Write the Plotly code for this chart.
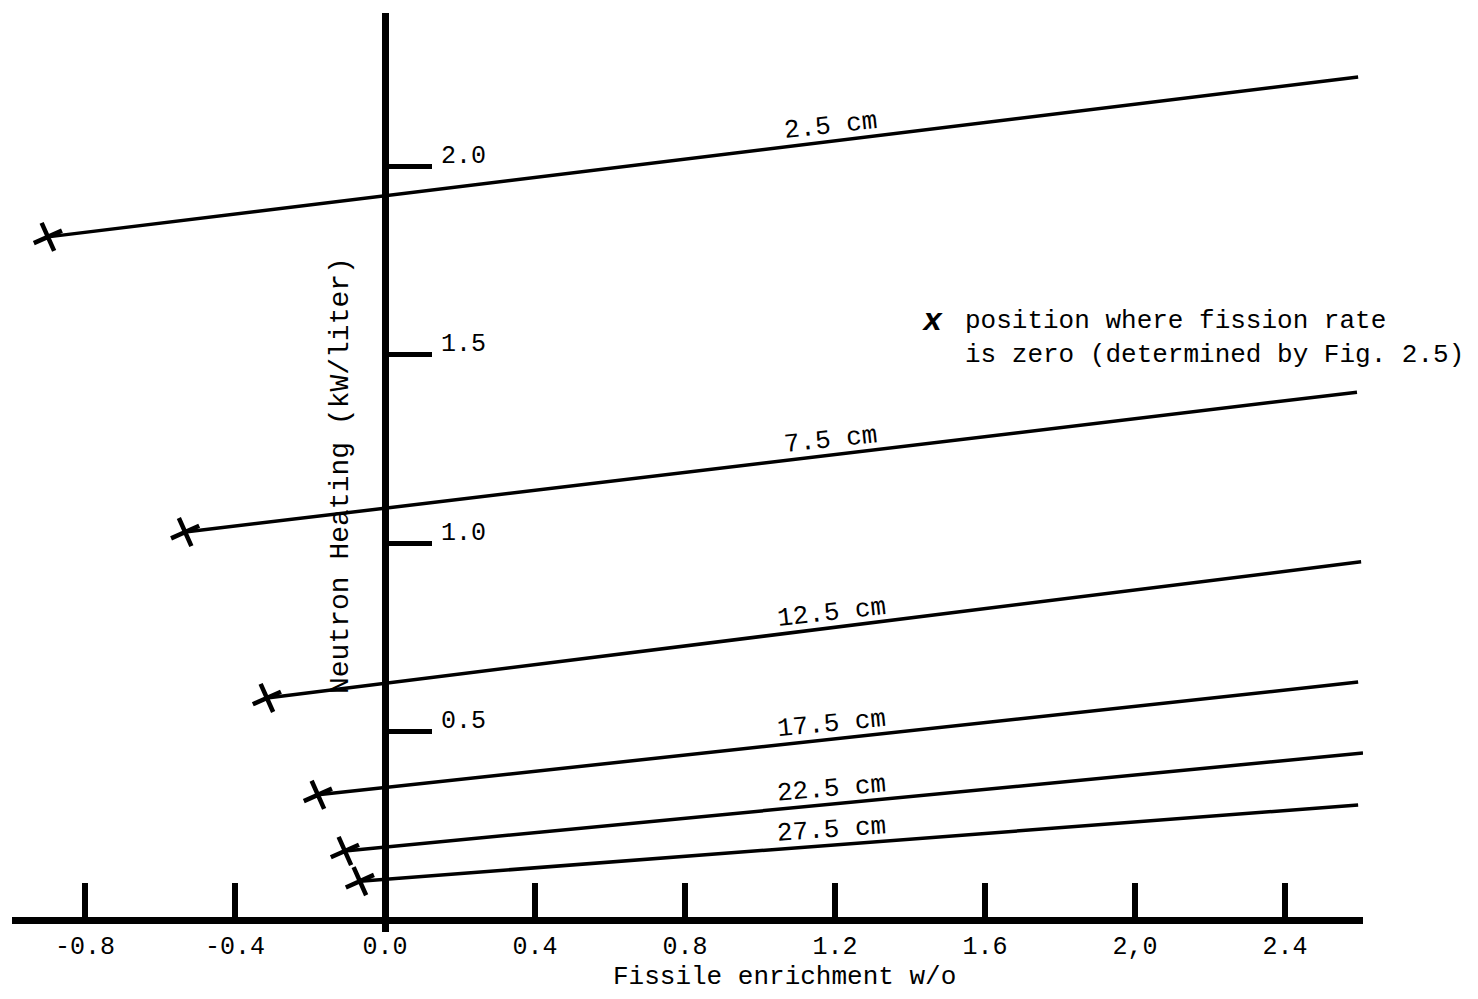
import math
import plotly.graph_objects as go

# ---------------- data ----------------
thickness_labels = ["2.5 cm", "7.5 cm", "12.5 cm", "17.5 cm", "22.5 cm", "27.5 cm"]
# left end: enrichment where fission rate is zero, and the heating there
zero_enrichment = [-0.899, -0.533, -0.315, -0.179, -0.107, -0.067]
zero_heating = [1.812, 1.029, 0.589, 0.332, 0.183, 0.103]
# right end of each line
end_enrichment = [2.595, 2.592, 2.603, 2.595, 2.608, 2.595]
end_heating = [2.236, 1.400, 0.950, 0.631, 0.443, 0.305]

x_tick_vals = [-0.8, -0.4, 0.0, 0.4, 0.8, 1.2, 1.6, 2.0, 2.4]
x_tick_text = ["-0.8", "-0.4", "0.0", "0.4", "0.8", "1.2", "1.6", "2,0", "2.4"]
y_tick_vals = [0.5, 1.0, 1.5, 2.0]
y_tick_text = ["0.5", "1.0", "1.5", "2.0"]

# ---------------- layout geometry ----------------
M = 8                           # default page-body margin of the html page
W, H = 1478 - 2 * M, 999 - 2 * M
SX, SY = 375.0, 377.0           # pixels per unit
OX, OY = 385.0 - M, 920.0 - M   # pixel position of the origin (figure coords)
X_LEFT_PX, X_RIGHT_PX = 12 - M, 1363 - M
Y_TOP_PX, Y_BOT_PX = 13 - M, 932 - M

FONT = "Liberation Mono, Courier New, monospace"

x_range = [(X_LEFT_PX - OX) / SX, (X_RIGHT_PX - OX) / SX]
y_range = [(OY - Y_BOT_PX) / SY, (OY - Y_TOP_PX) / SY]


def px_x(p):
    """reference pixel x -> data x"""
    return (p - M - OX) / SX


def px_y(p):
    """reference pixel y -> data y"""
    return (OY - (p - M)) / SY


fig = go.Figure()

for i, lab in enumerate(thickness_labels):
    fig.add_trace(go.Scatter(
        x=[zero_enrichment[i], end_enrichment[i]],
        y=[zero_heating[i], end_heating[i]],
        mode="lines",
        line=dict(color="black", width=3.5),
        name=lab,
        showlegend=False,
        hoverinfo="skip",
    ))

fig.add_trace(go.Scatter(
    x=zero_enrichment,
    y=zero_heating,
    mode="markers",
    marker=dict(symbol="cross-thin", size=22, angle=-24,
                line=dict(color="black", width=4.5), color="black"),
    showlegend=False,
    cliponaxis=False,
    hoverinfo="skip",
))

annotations = []
LABEL_X = 1.19
for i, lab in enumerate(thickness_labels):
    x0, y0 = zero_enrichment[i], zero_heating[i]
    x1, y1 = end_enrichment[i], end_heating[i]
    t = (LABEL_X - x0) / (x1 - x0)
    yl = y0 + t * (y1 - y0)
    ang = math.degrees(math.atan2((y1 - y0) * SY, (x1 - x0) * SX))
    annotations.append(dict(
        x=LABEL_X, y=yl, xref="x", yref="y", text=lab, showarrow=False,
        xanchor="center", yanchor="middle", yshift=15, textangle=-ang * 0.9,
        font=dict(family=FONT, size=26, color="black"),
    ))

# y-axis title
annotations.append(dict(
    x=px_x(340), y=px_y(476), xref="x", yref="y",
    text="Neutron Heating (kW/liter)", showarrow=False, textangle=-90,
    xanchor="center", yanchor="middle",
    font=dict(family=FONT, size=28, color="black"),
))
# x-axis title
annotations.append(dict(
    x=(785 - M) / W, y=(H - (977 - M)) / H, xref="paper", yref="paper",
    text="Fissile enrichment w/o", showarrow=False,
    xanchor="center", yanchor="middle",
    font=dict(family=FONT, size=26, color="black"),
))
# key
annotations.append(dict(
    x=px_x(932), y=px_y(321), xref="x", yref="y",
    text="<b><i>x</i></b>", showarrow=False, xanchor="center", yanchor="middle",
    font=dict(family=FONT, size=32, color="black"),
))
annotations.append(dict(
    x=px_x(963), y=px_y(304), xref="x", yref="y",
    text="position where fission rate<br>is zero (determined by Fig. 2.5)",
    showarrow=False, xanchor="left", yanchor="top", align="left",
    font=dict(family=FONT, size=26, color="black"),
))

fig.update_layout(
    width=W, height=H,
    margin=dict(l=0, r=0, t=0, b=0, pad=0),
    paper_bgcolor="white", plot_bgcolor="white",
    showlegend=False,
    annotations=annotations,
    xaxis=dict(
        domain=[X_LEFT_PX / W, X_RIGHT_PX / W],
        range=x_range, anchor="free", position=(H - OY) / H,
        showline=True, linecolor="black", linewidth=7,
        showgrid=False, zeroline=False,
        tickmode="array", tickvals=x_tick_vals, ticktext=x_tick_text,
        ticks="inside", ticklen=34, tickwidth=6, tickcolor="black",
        tickfont=dict(family=FONT, size=25, color="black"),
    ),
    yaxis=dict(
        domain=[(H - Y_BOT_PX) / H, (H - Y_TOP_PX) / H],
        range=y_range, anchor="free", position=OX / W, side="right",
        showline=True, linecolor="black", linewidth=7,
        showgrid=False, zeroline=False,
        tickmode="array", tickvals=y_tick_vals, ticktext=y_tick_text,
        ticks="outside", ticklen=43, tickwidth=5, tickcolor="black",
        ticklabelshift=-12, ticklabelstandoff=4,
        tickfont=dict(family=FONT, size=25, color="black"),
    ),
)

fig.write_html("out.html")
